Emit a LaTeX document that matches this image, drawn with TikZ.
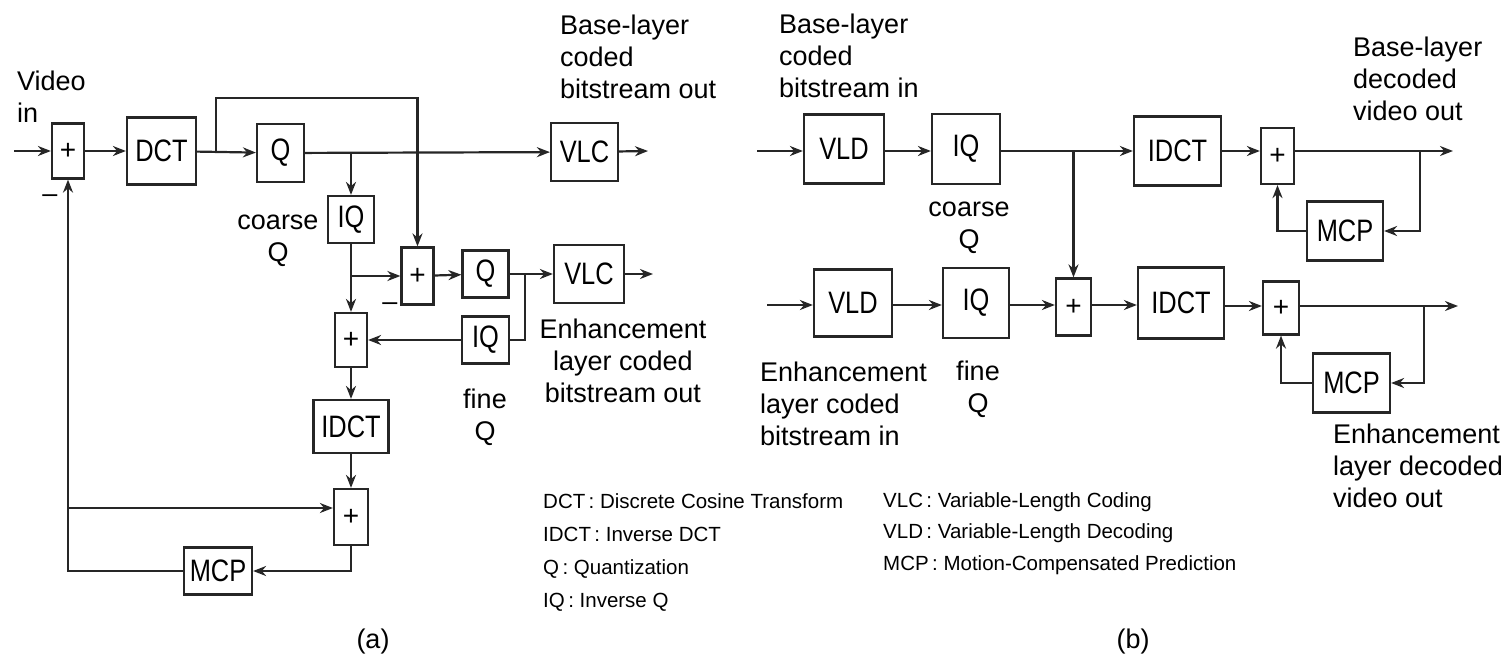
\documentclass[tikz,border=0pt]{standalone}
\usepackage{fontspec}
\setmainfont{Liberation Sans}
\newfontfamily\boxfont{Liberation Sans}[FakeStretch=0.82]
\usetikzlibrary{arrows.meta,positioning,calc}

\begin{document}
\begin{tikzpicture}[
    x=1pt,y=-1pt,
    blk/.style={draw=black!85,line width=2.2pt,inner sep=0pt,font=\boxfont\fontsize{31}{36}\selectfont},
    sum/.style={draw=black!85,line width=2.2pt,inner sep=0pt,minimum width=32pt,minimum height=55pt,font=\fontsize{28}{30}\selectfont},
    txt/.style={inner sep=0pt,align=left,font=\fontsize{27}{32}\selectfont},
    key/.style={inner sep=0pt,align=left,font=\fontsize{20.5}{33}\selectfont},
    arr/.style={-{Stealth[length=13pt,width=10pt]},line width=2.2pt,draw=black!85},
    wire/.style={line width=2.2pt,draw=black!85}
]
\useasboundingbox (0,0) rectangle (1510,656);

% (a) encoder
\coordinate (vin) at (14,151);
\node[sum] (add1) at (68,151) {+};
\node[blk,minimum width=69pt,minimum height=67pt] (dct) at (161.5,151) {DCT};
\node[blk,minimum width=47pt,minimum height=58pt] (q1) at (280.5,153) {Q};
\node[blk,minimum width=67pt,minimum height=58pt] (vlc1) at (584.5,152) {VLC};
\coordinate (out1) at (648,151);
\node[blk,minimum width=46pt,minimum height=47pt] (iq1) at (351,219.5) {IQ};
\node[sum,minimum height=57pt] (add2) at (417.5,276) {+};
\node[blk,minimum width=46pt,minimum height=47pt] (q2) at (485.5,274) {Q};
\node[blk,minimum width=70pt,minimum height=58pt] (vlc2) at (589,274) {VLC};
\coordinate (out2) at (653,274);
\node[blk,minimum width=47pt,minimum height=47pt] (iq2) at (485.5,340) {IQ};
\node[sum,minimum height=54pt] (add3) at (351,340) {+};
\node[blk,minimum width=75pt,minimum height=53pt] (idct1) at (351,426.5) {IDCT};
\node[sum,minimum width=34pt,minimum height=56pt] (add4) at (351,517) {+};
\node[blk,minimum width=68pt,minimum height=47pt] (mcp1) at (218,571) {MCP};

\coordinate (tap1) at (216,151);
\coordinate (up1) at (216,98);
\coordinate (tap2) at (iq1 |- q1);
\coordinate (tap3) at (iq1 |- add2);
\coordinate (tap4) at (525,274);
\coordinate (tap5) at (68,508);

\draw[arr] (vin) -- (add1);
\draw[arr] (add1) -- (dct);
\draw[arr] (dct) -- (q1);
\draw[arr] (tap1) -- (up1) -| (add2);
\draw[arr] (q1) -- (vlc1);
\draw[arr] (vlc1) -- (out1);
\draw[arr] (tap2) -- (iq1);
\draw[arr] (iq1) -- (add3);
\draw[arr] (tap3) -- (add2);
\draw[arr] (add2) -- (q2);
\draw[arr] (q2) -- (vlc2);
\draw[arr] (vlc2) -- (out2);
\draw[wire] (tap4) |- (iq2);
\draw[arr] (iq2) -- (add3);
\draw[arr] (add3) -- (idct1);
\draw[arr] (idct1) -- (add4);
\draw[arr] (add4) |- (mcp1);
\draw[arr] (mcp1) -| (add1);
\draw[arr] (tap5) -- (tap5 -| add4.west);

\node[txt,anchor=base west] (vidin) at (17,122) {Video\\in};
\node[txt] (neg1) at (50,199) {–};
\node[txt] (neg2) at (390,307) {–};
\node[txt,anchor=base,align=center] (coarsea) at (278,261) {coarse\\Q};
\node[txt,anchor=base west] (baseout) at (560,98) {Base-layer\\coded\\bitstream out};
\node[txt,anchor=base,align=center] (enhout) at (623,402) {Enhancement\\layer coded\\bitstream out};
\node[txt,anchor=base,align=center] (finea) at (485,440) {fine\\Q};
\node[txt,anchor=base] (capa) at (373,648) {(a)};

\node[key,anchor=base west] (keya) at (543,607) {DCT\,: Discrete Cosine Transform\\IDCT\,: Inverse DCT\\Q\,: Quantization\\IQ\,: Inverse Q};
\node[key,anchor=base west,font=\fontsize{20.5}{31.5}\selectfont] (keyb) at (883,570) {VLC\,: Variable-Length Coding\\VLD\,: Variable-Length Decoding\\MCP\,: Motion-Compensated Prediction};

% (b) decoder
\coordinate (inb1) at (757,151);
\node[blk,minimum width=80pt,minimum height=69pt] (vld1) at (844,149) {VLD};
\node[blk,minimum width=68pt,minimum height=70pt] (iq1b) at (966,149) {IQ};
\node[blk,minimum width=87pt,minimum height=69pt] (idct1b) at (1177.5,151) {IDCT};
\node[sum,minimum width=33pt,minimum height=56pt] (addb1) at (1277.5,156) {+};
\node[blk,minimum width=76pt,minimum height=59pt] (mcpb1) at (1345,231) {MCP};
\coordinate (outb1) at (1453,151);
\coordinate (tapb1) at (1420,151);

\coordinate (inb2) at (767,305);
\node[blk,minimum width=78pt,minimum height=67pt] (vld2) at (853,303) {VLD};
\node[blk,minimum width=66pt,minimum height=70pt] (iq2b) at (976,303) {IQ};
\node[sum,minimum width=35pt,minimum height=57pt] (addbm) at (1073.5,307) {+};
\node[blk,minimum width=86pt,minimum height=71pt] (idct2b) at (1181,303) {IDCT};
\node[sum,minimum width=36pt,minimum height=53pt] (addb2) at (1281,308) {+};
\node[blk,minimum width=77pt,minimum height=59pt] (mcpb2) at (1351.5,383) {MCP};
\coordinate (outb2) at (1458,306);
\coordinate (tapb3) at (1424,306);
\coordinate (tapb2) at (addbm |- inb1);

\draw[arr] (inb1) -- (inb1 -| vld1.west);
\draw[arr] (vld1.east |- inb1) -- (inb1 -| iq1b.west);
\draw[arr] (iq1b.east |- inb1) -- (idct1b);
\draw[arr] (idct1b.east) -- (idct1b.east -| addb1.west);
\draw[arr] (addb1.east |- outb1) -- (outb1);
\draw[arr] (tapb1) |- (mcpb1);
\draw[arr] (mcpb1) -| (addb1);
\draw[arr] (tapb2) -- (addbm);

\draw[arr] (inb2) -- (inb2 -| vld2.west);
\draw[arr] (vld2.east |- inb2) -- (inb2 -| iq2b.west);
\draw[arr] (iq2b.east |- inb2) -- (inb2 -| addbm.west);
\draw[arr] (addbm.east |- inb2) -- (inb2 -| idct2b.west);
\draw[arr] (idct2b.east |- outb2) -- (outb2 -| addb2.west);
\draw[arr] (addb2.east |- outb2) -- (outb2);
\draw[arr] (tapb3) |- (mcpb2);
\draw[arr] (mcpb2) -| (addb2);

\node[txt,anchor=base west] (basein) at (779,97) {Base-layer\\coded\\bitstream in};
\node[txt,anchor=base,align=center] (coarseb) at (969,248) {coarse\\Q};
\node[txt,anchor=base west] (enhin) at (760,445) {Enhancement\\layer coded\\bitstream in};
\node[txt,anchor=base,align=center] (fineb) at (978,412) {fine\\Q};
\node[txt,anchor=base west] (basevid) at (1353,120) {Base-layer\\decoded\\video out};
\node[txt,anchor=base west] (enhvid) at (1333,507) {Enhancement\\layer decoded\\video out};
\node[txt,anchor=base] (capb) at (1133,648) {(b)};
\end{tikzpicture}
\end{document}
